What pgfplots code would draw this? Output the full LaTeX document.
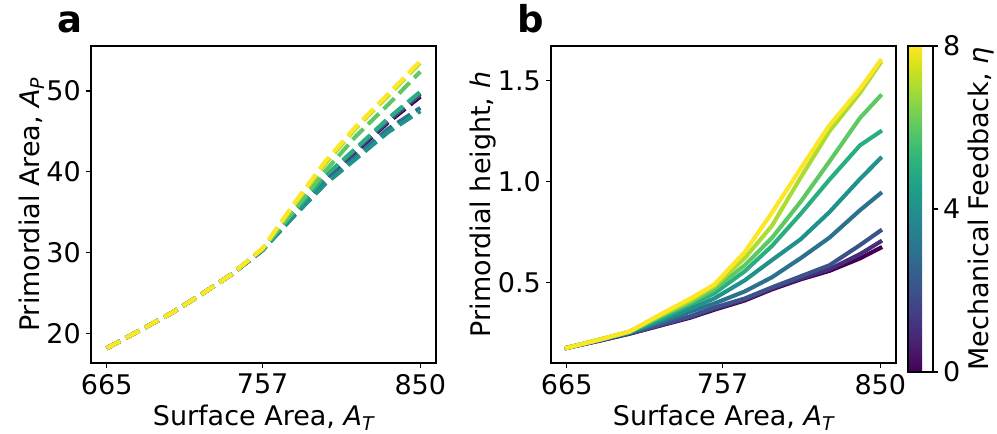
\documentclass[border=0pt]{standalone}
\usepackage{pgfplots}
\pgfplotsset{compat=1.18}
\usepackage{pgfplotstable}
\usepackage{fontspec}
\setmainfont{DejaVu Sans}
\newcommand\lbl{\fontsize{27}{32}\selectfont}
\newcommand\pan{\fontsize{37}{44}\selectfont\bfseries}
\definecolor{c0}{HTML}{440154}
\definecolor{c1}{HTML}{472D7B}
\definecolor{c2}{HTML}{3B528B}
\definecolor{c3}{HTML}{2C728E}
\definecolor{c4}{HTML}{21918C}
\definecolor{c5}{HTML}{28AE80}
\definecolor{c6}{HTML}{5EC962}
\definecolor{c7}{HTML}{ADDC30}
\definecolor{c8}{HTML}{FDE725}

\pgfplotstableread{
x   e0    e1    e2    e3    e4    e5    e6    e7    e8
665 18.14 18.14 18.14 18.14 18.14 18.14 18.14 18.14 18.14
684 20.3  20.3  20.3  20.3  20.3  20.3  20.3  20.3  20.3
702 22.35 22.35 22.35 22.35 22.35 22.35 22.35 22.35 22.35
720 24.7  24.7  24.7  24.7  24.7  24.7  24.7  24.7  24.7
738 27.2  27.2  27.2  27.2  27.2  27.2  27.2  27.2  27.2
757 30.3  30.35 30.35 30.3  30.3  30.4  30.45 30.5  30.5
775 34.7  34.9  34.8  34.5  34.4  34.9  35.1  35.7  35.9
794 39.1  39.4  39.3  38.7  38.5  39.5  40.1  41.0  41.3
812 42.5  42.8  42.7  41.9  41.6  42.9  44.4  45.4  45.6
831 46.1  46.5  46.3  45.3  44.9  46.6  48.3  49.4  49.6
850 49.3  49.8  49.6  47.9  47.5  49.9  52.4  53.5  53.7
}\tabA

\pgfplotstableread{
x   e0    e1    e2    e3    e4    e5    e6    e7    e8
665 0.175 0.175 0.175 0.175 0.175 0.175 0.175 0.175 0.175
684 0.210 0.210 0.212 0.213 0.214 0.215 0.215 0.215 0.215
702 0.245 0.246 0.248 0.250 0.252 0.254 0.255 0.256 0.256
720 0.285 0.287 0.290 0.300 0.310 0.320 0.330 0.335 0.340
738 0.325 0.328 0.332 0.355 0.370 0.390 0.400 0.410 0.420
752 0.364 0.368 0.375 0.395 0.420 0.445 0.465 0.480 0.489
770 0.410 0.415 0.420 0.455 0.510 0.555 0.585 0.620 0.650
786 0.465 0.470 0.475 0.525 0.610 0.680 0.720 0.780 0.845
803 0.515 0.520 0.530 0.620 0.714 0.840 0.900 1.020 1.065
820 0.557 0.565 0.585 0.722 0.849 1.010 1.100 1.250 1.280
838 0.619 0.640 0.685 0.858 1.013 1.180 1.316 1.440 1.460
850 0.671 0.702 0.756 0.941 1.115 1.248 1.425 1.588 1.600
}\tabB

\pgfplotsset{
  every tick label/.append style={font=\lbl},
  every axis label/.append style={font=\lbl},
  /pgf/number format/assume math mode=true,
  tick style={line width=1.1pt, black},
  major tick length=5pt,
  axis line style={line width=1.1pt},
  common/.style={
    scale only axis, width=345pt, height=317pt,
    anchor=south west,
    xmin=655.75, xmax=859.25,
    xtick={665,757,850}, xticklabels={665,757,850},
    tick align=outside, xtick pos=bottom, ytick pos=left,
    xticklabel style={inner sep=0pt, yshift=-6pt},
    yticklabel style={inner sep=0pt, xshift=-5pt},
    xlabel={Surface Area, {\itshape A}\textsubscript{\itshape T}},
    xlabel style={at={(axis description cs:0.5,-0.1956)}, anchor=base},
  },
  la/.style={line width=4.1pt, line cap=butt, line join=round, dash pattern=on 15.2pt off 6.6pt},
  lb/.style={line width=4.1pt, line cap=rect, line join=round},
}

\begin{document}
\begin{tikzpicture}
\useasboundingbox (0,0) rectangle (997pt,434pt);
\begin{axis}[common, at={(91pt,71pt)},
  ymin=16.32, ymax=55.57, ytick={20,30,40,50},
  ylabel={Primordial Area, {\itshape A}\textsubscript{\itshape P}},
  ylabel style={at={(axis description cs:-0.1507,0.5)}, anchor=base},
]
\addplot[la, c0] table[x=x,y=e0]{\tabA};
\addplot[la, c1] table[x=x,y=e1]{\tabA};
\addplot[la, c2] table[x=x,y=e2]{\tabA};
\addplot[la, c3] table[x=x,y=e3]{\tabA};
\addplot[la, c4] table[x=x,y=e4]{\tabA};
\addplot[la, c5] table[x=x,y=e5]{\tabA};
\addplot[la, c6] table[x=x,y=e6]{\tabA};
\addplot[la, c7] table[x=x,y=e7]{\tabA};
\addplot[la, c8] table[x=x,y=e8]{\tabA};
\end{axis}
\begin{axis}[common, at={(551pt,71pt)},
  ymin=0.10, ymax=1.673, ytick={0.5,1.0,1.5},
  yticklabel style={/pgf/number format/fixed, /pgf/number format/fixed zerofill, /pgf/number format/precision=1},
  ylabel={Primordial height, {\itshape h}},
  ylabel style={at={(axis description cs:-0.1768,0.5)}, anchor=base},
  colormap/viridis, point meta min=0, point meta max=8,
  colorbar,
  colorbar shift/.style={xshift=12pt},
  colorbar style={
    at={(parent axis.north east)}, anchor=north west,
    scale only axis, width=25pt, height=326pt,
    ytick={0,4,8}, tick align=outside, ytick pos=right, yticklabel pos=right,
    yticklabel style={inner sep=0pt, xshift=5pt},
    major tick length=5pt,
    ylabel={Mechanical Feedback, {\itshape η}},
    ylabel style={at={(axis description cs:3.2,0.5)}, anchor=base, rotate=0},
  },
]
\addplot[lb, c0] table[x=x,y=e0]{\tabB};
\addplot[lb, c1] table[x=x,y=e1]{\tabB};
\addplot[lb, c2] table[x=x,y=e2]{\tabB};
\addplot[lb, c3] table[x=x,y=e3]{\tabB};
\addplot[lb, c4] table[x=x,y=e4]{\tabB};
\addplot[lb, c5] table[x=x,y=e5]{\tabB};
\addplot[lb, c6] table[x=x,y=e6]{\tabB};
\addplot[lb, c7] table[x=x,y=e7]{\tabB};
\addplot[lb, c8] table[x=x,y=e8]{\tabB};
\end{axis}
\node[anchor=base west, font=\pan, inner sep=0pt] at (57pt,401pt) {a};
\node[anchor=base west, font=\pan, inner sep=0pt] at (517pt,401pt) {b};
\end{tikzpicture}
\end{document}
